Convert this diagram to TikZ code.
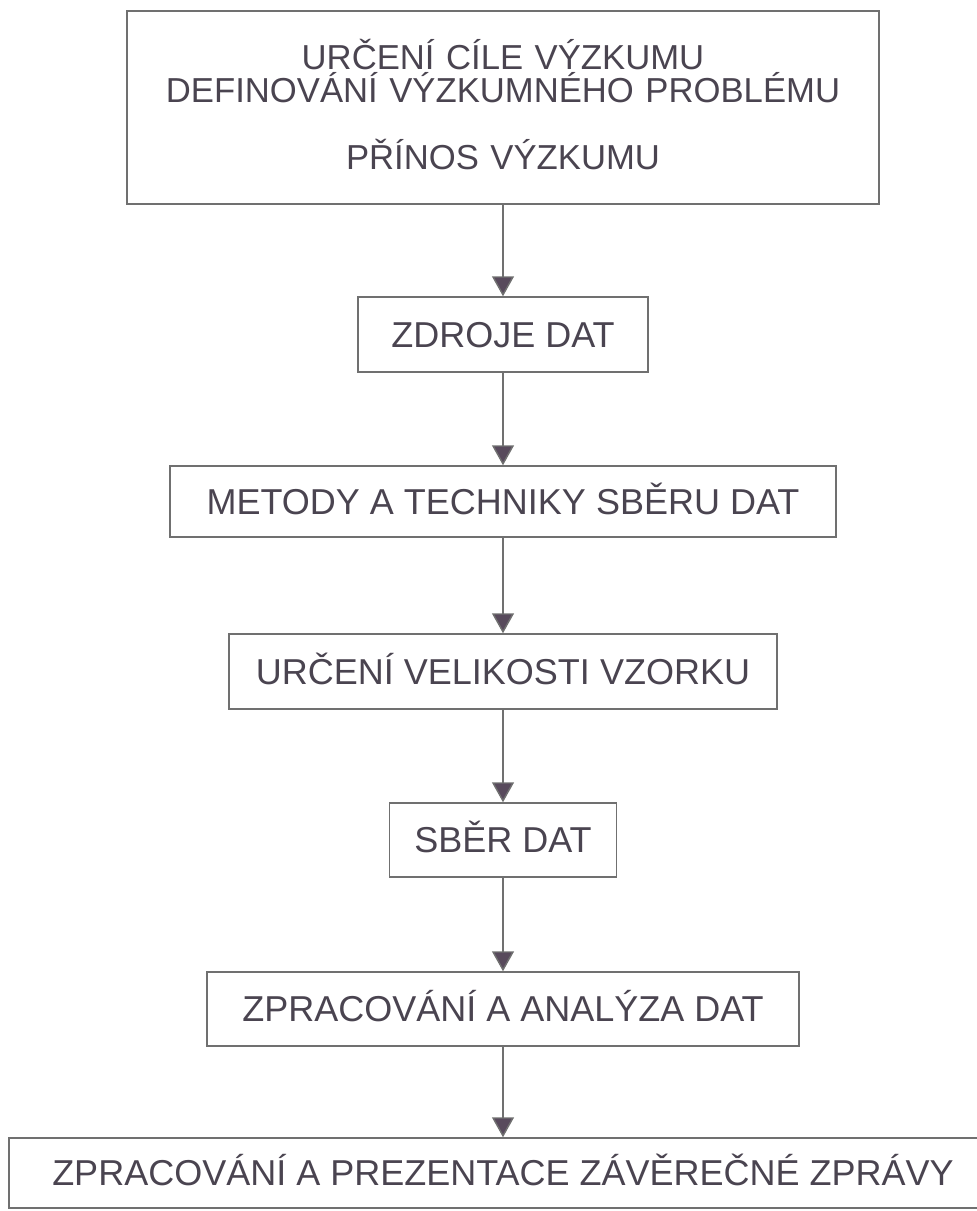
\documentclass[tikz,border=0pt]{standalone}
\usepackage{fontspec}
\setmainfont{Liberation Sans}
\usetikzlibrary{arrows.meta}
\definecolor{boxline}{HTML}{707070}
\definecolor{boxtext}{HTML}{4A4450}
\definecolor{tipfill}{HTML}{584A5C}

\begin{document}
\begin{tikzpicture}[x = 0.75pt, y = -0.75pt,
  box/.style = {draw = boxline, line width = 1.1pt, text = boxtext, inner sep = 0pt,
    font = \fontsize{27}{20.25}\selectfont,
    text height = 19.4pt, text depth = 0pt},
  flow/.style = {draw = boxline, line width = 1.1pt,
    -{Triangle[width = 16.5pt, length = 15pt, fill = tipfill]}}]
\useasboundingbox (0, 0) rectangle (977, 1211);
\node[box, minimum width = 564pt, minimum height = 144.75pt, text width = 540pt,
  align = center, font = \fontsize{26}{24.5}\selectfont,
  text height = 18.6pt, text depth = 75pt] (goal) at (503, 107.5)
  {\lineskiplimit=-40pt URČENÍ CÍLE VÝZKUMU\\DEFINOVÁNÍ VÝZKUMNÉHO PROBLÉMU\\[26pt]PŘÍNOS VÝZKUMU};
\node[box, minimum width = 217.5pt, minimum height = 56.25pt] (source) at (503, 334.5) {ZDROJE DAT};
\node[box, minimum width = 499.5pt, minimum height = 53.25pt] (methods) at (503, 501.5) {METODY A TECHNIKY SBĚRU DAT};
\node[box, minimum width = 411pt, minimum height = 56.25pt] (sample) at (503, 671.5) {URČENÍ VELIKOSTI VZORKU};
\node[box, minimum width = 170.25pt, minimum height = 55.5pt] (collect) at (503, 840) {SBĚR DAT};
\node[box, minimum width = 444pt, minimum height = 55.5pt] (analysis) at (503, 1009) {ZPRACOVÁNÍ A ANALÝZA DAT};
\node[box, minimum width = 741pt, minimum height = 52.5pt] (report) at (503, 1173) {ZPRACOVÁNÍ A PREZENTACE ZÁVĚREČNÉ ZPRÁVY};
\draw[flow] (goal) -- (source);
\draw[flow] (source) -- (methods);
\draw[flow] (methods) -- (sample);
\draw[flow] (sample) -- (collect);
\draw[flow] (collect) -- (analysis);
\draw[flow] (analysis) -- (report);
\end{tikzpicture}
\end{document}
